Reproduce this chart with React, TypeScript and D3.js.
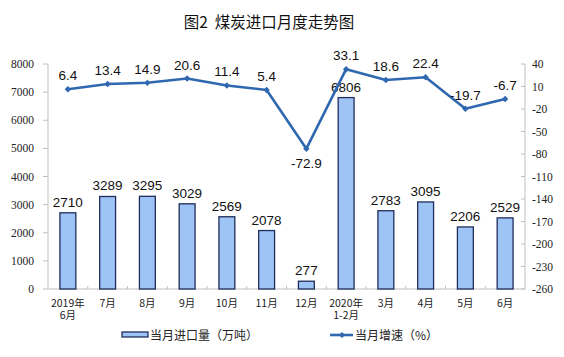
import React from "react";
import * as d3 from "d3";

const categories = ["2019年|6月", "7月", "8月", "9月", "10月", "11月", "12月", "2020年|1-2月", "3月", "4月", "5月", "6月"];
const importVolume = [2710, 3289, 3295, 3029, 2569, 2078, 277, 6806, 2783, 3095, 2206, 2529];
const growthRate = [6.4, 13.4, 14.9, 20.6, 11.4, 5.4, -72.9, 33.1, 18.6, 22.4, -19.7, -6.7];
const leftTicks = [0, 1000, 2000, 3000, 4000, 5000, 6000, 7000, 8000];
const rightTicks = [40, 10, -20, -50, -80, -110, -140, -170, -200, -230, -260];
const title = "图2\u00a0\u00a0煤炭进口月度走势图";
const legendBar = "当月进口量（万吨）";
const legendLine = "当月增速（%）";

const W = 564, H = 357;
const left = 48, right = 525, top = 64, bottom = 289;
const barFill = "#9dc4f5";
const barStroke = "#1f2d5a";
const lineColor = "#2f68b0";
const axisColor = "#bfbfbf";
const cjk = "'Noto Sans CJK SC', sans-serif";
const serif = "'Liberation Serif', 'Times New Roman', serif";
const sans = "'Liberation Sans', Arial, sans-serif";

export default function App() {
  const x = d3.scaleBand<number>().domain(d3.range(categories.length)).range([left, right]).paddingInner(0.6).paddingOuter(0.3);
  const xc = (i: number) => (x(i) as number) + x.bandwidth() / 2;
  const step = x.step();
  const yL = d3.scaleLinear().domain([0, 8000]).range([bottom, top]);
  const yR = d3.scaleLinear().domain([-260, 40]).range([bottom, top]);
  const line = d3.line<number>().x((_, i) => xc(i)).y((d) => yR(d));
  const diamond = (cx: number, cy: number, r = 3.2) => `M${cx},${cy - r}L${cx + r},${cy}L${cx},${cy + r}L${cx - r},${cy}Z`;

  return (
    <svg width={W} height={H} style={{ position: "absolute", left: 0, top: 0, background: "#fff" }}>
      <rect width={W} height={H} fill="#fff" />
      <text x={269} y={28} textAnchor="middle" fontFamily={cjk} fontSize={15.5} fill="#111">{title}</text>

      {/* left axis */}
      <line x1={left} x2={left} y1={top} y2={bottom} stroke={axisColor} />
      {leftTicks.map((t) => (
        <g key={"l" + t}>
          <line x1={left - 5} x2={left} y1={yL(t)} y2={yL(t)} stroke={axisColor} />
          <text x={34} y={yL(t) + 4} textAnchor="end" fontFamily={serif} fontSize={11.5} fill="#222">{t}</text>
        </g>
      ))}

      {/* right axis */}
      <line x1={right} x2={right} y1={top} y2={bottom} stroke={axisColor} />
      {rightTicks.map((t) => (
        <g key={"r" + t}>
          <line x1={right - 4} x2={right} y1={yR(t)} y2={yR(t)} stroke={axisColor} />
          <text x={532} y={yR(t) + 4} textAnchor="start" fontFamily={serif} fontSize={11.5} fill="#222">{t}</text>
        </g>
      ))}

      {/* x axis */}
      <line x1={left} x2={right} y1={bottom} y2={bottom} stroke={axisColor} />
      {d3.range(1, categories.length).map((i) => (
        <line key={"xt" + i} x1={left + i * step} x2={left + i * step} y1={bottom - 3} y2={bottom} stroke={axisColor} />
      ))}
      {categories.map((c, i) =>
        c.split("|").map((s, j) => (
          <text key={"c" + i + "_" + j} x={xc(i)} y={306.5 + j * 12} textAnchor="middle" fontFamily={cjk} fontSize={10.5} fill="#222">{s}</text>
        ))
      )}

      {/* bars */}
      {importVolume.map((v, i) => (
        <g key={"b" + i}>
          <rect x={x(i)} y={yL(v)} width={x.bandwidth()} height={bottom - yL(v)} fill={barFill} stroke={barStroke} strokeWidth={1.3} />
          <text x={xc(i)} y={yL(v) - 6} textAnchor="middle" fontFamily={sans} fontSize={13.5} fill="#111">{v}</text>
        </g>
      ))}

      {/* line */}
      <path d={line(growthRate) as string} fill="none" stroke={lineColor} strokeWidth={2.6} strokeLinejoin="round" />
      {growthRate.map((v, i) => (
        <g key={"p" + i}>
          <path d={diamond(xc(i), yR(v))} fill={lineColor} />
          <text x={xc(i)} y={v < -50 ? yR(v) + 19 : yR(v) - 9} textAnchor="middle" fontFamily={sans} fontSize={13.5} fill="#111">{v}</text>
        </g>
      ))}

      {/* legend */}
      <rect x={122} y={332} width={26} height={5} fill={barFill} stroke={barStroke} strokeWidth={1.3} />
      <text x={150} y={339.5} fontFamily={cjk} fontSize={12} fill="#222">{legendBar}</text>
      <line x1={330} x2={353} y1={335} y2={335} stroke={lineColor} strokeWidth={2.6} />
      <path d={diamond(342, 335, 3)} fill={lineColor} />
      <text x={355} y={339.5} fontFamily={cjk} fontSize={12} fill="#222">{legendLine}</text>
    </svg>
  );
}
